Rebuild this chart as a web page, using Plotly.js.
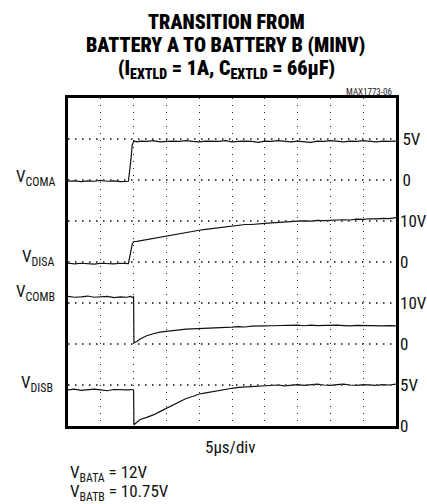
<!DOCTYPE html>
<html>
<head>
<meta charset="utf-8">
<script src="https://cdn.plot.ly/plotly-3.0.1.min.js"></script>
<style>html,body{margin:0;padding:0;background:#fff;}#chart{width:427px;height:504px;}</style>
</head>
<body>
<div id="chart"></div>
<script>
// time in microseconds (5 us/div, 10 divisions)
const t = [0,1,2,3,4,5,6,7,8,9, 9.2,9.5,9.8,10,10.05,10.5,
  11,12,13,14,15,16,17,18,19,20,21,22,23,24,25,26,27,28,29,30,
  31,32,33,34,35,36,37,38,39,40,41,42,43,44,45,46,47,48,49,50];

// V_COMA (5V/div)
const vComA = [-0.15,-0.1,-0.2,-0.1,-0.15,-0.05,-0.15,-0.1,-0.2,-0.1,
  -0.15,1.8,4.3,4.7,4.75,4.65,
  4.75,4.7,4.8,4.65,4.7,4.75,4.7,4.8,4.7,4.65,4.75,4.7,4.7,4.8,4.65,4.7,4.75,4.7,4.6,4.75,
  4.7,4.8,4.7,4.65,4.75,4.7,4.6,4.75,4.7,4.8,4.7,4.65,4.75,4.7,4.8,4.7,4.65,4.75,4.7,4.75];

// V_DISA (10V/div)
const vDisA = [-0.3,-0.45,-0.3,-0.35,-0.5,-0.3,-0.4,-0.45,-0.3,-0.35,
  -0.4,2.0,4.4,4.9,5.0,5.05,
  5.2,5.5,5.7,6.05,6.3,6.55,6.95,7.2,7.45,7.75,7.95,8.15,8.45,8.55,8.75,8.9,9.15,9.15,9.35,9.4,
  9.55,9.7,9.75,9.85,9.95,10.05,9.95,10.15,10.1,10.2,10.25,10.3,10.25,10.45,10.4,10.55,10.5,10.65,10.6,10.8];

// V_COMB (10V/div)
const vComB = [11.6,11.4,11.5,11.7,11.4,11.5,11.6,11.3,11.5,11.4,
  11.5,11.6,11.4,11.5,0.3,0.6,
  1.2,2.0,2.5,2.9,3.1,3.35,3.45,3.65,3.7,3.8,3.95,3.95,4.05,4.1,4.1,4.25,4.15,4.35,4.3,4.4,
  4.45,4.5,4.4,4.55,4.6,4.45,4.6,4.5,4.55,4.45,4.6,4.5,4.4,4.55,4.5,4.45,4.55,4.4,4.5,4.4];

// V_DISB (5V/div)
const vDisB = [4.4,4.5,4.35,4.4,4.5,4.4,4.3,4.45,4.4,4.35,
  4.4,4.45,4.4,4.4,0.15,0.45,
  0.8,1.05,1.35,1.75,2.15,2.6,3.0,3.35,3.6,3.9,4.05,4.2,4.35,4.5,4.6,4.7,4.75,4.8,4.85,4.9,
  4.95,5.0,4.9,5.0,5.05,4.95,5.0,5.1,5.0,4.95,5.05,5.1,5.0,4.95,5.05,5.0,4.95,5.05,5.0,5.1];

// scale labels: one grid line per division (on the V_COMA scale), labels at each channel's 0 and full-scale mark
const comATicks  = [-25,-20,-15,-10,-5,0,5];
const comALabels = ['','','','','','0','5V'];
const disATicks = [0,10], disALabels = ['0','10V'];
const comBTicks = [0,10], comBLabels = ['0','10V'];
const disBTicks = [0,5],  disBLabels = ['0','5V'];

const FONT = 'Roboto Condensed, Roboto, Arial, sans-serif';
const line = {color:'#111', width:1.2};

const traces = [
  {x:t, y:vComA, yaxis:'y',  type:'scatter', mode:'lines', line:line, hoverinfo:'skip', showlegend:false},
  {x:t, y:vDisA, yaxis:'y2', type:'scatter', mode:'lines', line:line, hoverinfo:'skip', showlegend:false},
  {x:t, y:vComB, yaxis:'y3', type:'scatter', mode:'lines', line:line, hoverinfo:'skip', showlegend:false},
  {x:t, y:vDisB, yaxis:'y4', type:'scatter', mode:'lines', line:line, hoverinfo:'skip', showlegend:false}
];

const tickfont = {family:FONT, size:17, color:'#111'};
const gridStyle = {gridcolor:'#222', gridwidth:1, griddash:'1px,6px'};

function chanAxis(range, tv, tt){
  return {overlaying:'y', side:'right', anchor:'x', range:range, tickvals:tv, ticktext:tt,
    showgrid:false, zeroline:false, showline:false, ticks:'', ticklabelstandoff:3, fixedrange:true,
    tickfont:tickfont};
}

const frame = Object.assign({showgrid:true, zeroline:false, showline:true, mirror:true,
  linewidth:3, linecolor:'#000', fixedrange:true}, gridStyle);

// horizontal division lines, placed on the V_COMA scale
const gridShapes = comATicks.map(v => ({type:'line', xref:'paper', x0:0, x1:1, yref:'y', y0:v, y1:v,
  layer:'above', line:{color:'#4a4a4a', width:2, dash:'1.5px,5.5px'}}));

const px = v => (v-68)/328;
const py = v => (426-v)/328;

const titleFont = {family:FONT, size:20, color:'#000', weight:900};
const annotations = [
  {text:'TRANSITION FROM', x:px(226), y:py(21.5)},
  {text:'BATTERY A TO BATTERY B (MINV)', x:px(225), y:py(45)},
  {text:'(I<sub>EXTLD</sub> = 1A, C<sub>EXTLD</sub> = 66µF)', x:px(226), y:py(69)},
].map(a => Object.assign({xref:'paper', yref:'paper', showarrow:false, xanchor:'center', yanchor:'middle',
  font:titleFont}, a));

const small = [
  {text:'MAX1773-06', x:px(394), y:py(92), xanchor:'right', font:{family:FONT, size:9, color:'#222'}},
  {text:'V<sub>COMA</sub>', x:px(58), y:py(177), xanchor:'right'},
  {text:'V<sub>DISA</sub>', x:px(56), y:py(257), xanchor:'right'},
  {text:'V<sub>COMB</sub>', x:px(57), y:py(292), xanchor:'right'},
  {text:'V<sub>DISB</sub>', x:px(55), y:py(383), xanchor:'right'},
  {text:'5µs/div', x:px(230), y:py(447), xanchor:'center'},
  {text:'V<sub>BATA</sub> = 12V', x:px(68), y:py(474), xanchor:'left'},
  {text:'V<sub>BATB</sub> = 10.75V', x:px(68), y:py(492), xanchor:'left'}
].map(a => Object.assign({xref:'paper', yref:'paper', showarrow:false, yanchor:'middle',
  font:{family:FONT, size:17, color:'#111'}}, a));

const layout = {
  width:427, height:504,
  margin:{l:68, r:31, t:98, b:78, pad:0},
  paper_bgcolor:'#fff', plot_bgcolor:'rgba(0,0,0,0)',
  showlegend:false,
  xaxis:Object.assign({range:[0,50], tick0:0, dtick:5, ticks:'', showticklabels:false}, frame),
  yaxis:Object.assign({range:[-30,10], tickvals:comATicks, ticktext:comALabels, side:'right',
    ticks:'', tickfont:tickfont}, frame),
  yaxis2:chanAxis([-40,40], disATicks, disALabels),
  yaxis3:chanAxis([-20,60], comBTicks, comBLabels),
  yaxis4:chanAxis([0,40], disBTicks, disBLabels),
  shapes:gridShapes,
  annotations:annotations.concat(small)
};

Plotly.newPlot('chart', traces, layout, {staticPlot:true, displayModeBar:false});
</script>
</body>
</html>
